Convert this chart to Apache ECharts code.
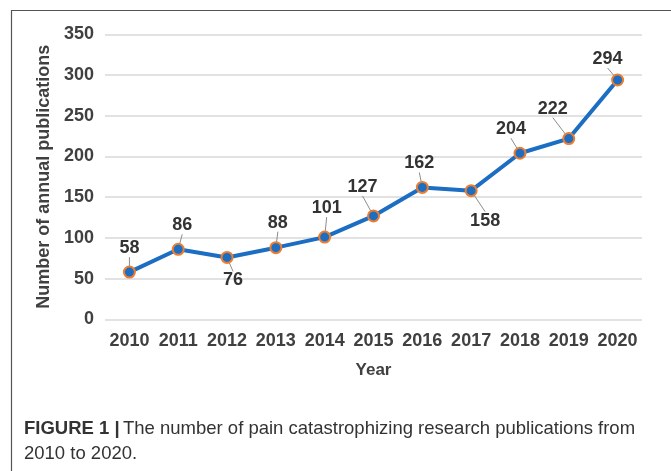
<!DOCTYPE html>
<html>
<head>
<meta charset="utf-8">
<script src="https://cdn.jsdelivr.net/npm/echarts@6/dist/echarts.min.js"></script>
<style>
html,body{margin:0;padding:0;background:#fff;}
#chart{width:671px;height:471px;}
</style>
</head>
<body>
<div id="chart"></div>
<script>
var years = ['2010','2011','2012','2013','2014','2015','2016','2017','2018','2019','2020'];
var publications = [58, 86, 76, 88, 101, 127, 162, 158, 204, 222, 294];
var yTicks = [0, 50, 100, 150, 200, 250, 300, 350];
// label offsets (label centre relative to point), layout only
var labelDx = [0, 4, 6, 2, 2, -11, -3, 14, -9, -16, -10];
var labelDy = [-24, -24, 23, -25, -29, -29, -24, 30, -24, -30, -21];

var chart = echarts.init(document.getElementById('chart'));
var font = 'Liberation Sans, Arial, sans-serif';
chart.setOption({
  backgroundColor: '#fff',
  animation: false,
  grid: {left: 105, right: 29, top: 34.4, bottom: 151.7},
  xAxis: {
    type: 'category',
    data: years,
    boundaryGap: true,
    axisLine: {show: false},
    axisTick: {show: false},
    axisLabel: {color: '#404040', fontWeight: 'bold', fontSize: 18, fontFamily: font, margin: 13, interval: 0},
    name: 'Year',
    nameLocation: 'middle',
    nameGap: 43,
    nameTextStyle: {color: '#404040', fontWeight: 'bold', fontSize: 17, fontFamily: font}
  },
  yAxis: {
    type: 'value',
    min: yTicks[0],
    max: yTicks[yTicks.length - 1],
    interval: 50,
    axisLine: {show: false},
    axisTick: {show: false},
    splitLine: {lineStyle: {color: '#d9d9d9', width: 1.5}},
    axisLabel: {color: '#404040', fontWeight: 'bold', fontSize: 18, fontFamily: font, margin: 11},
    name: 'Number of annual publications',
    nameLocation: 'middle',
    nameGap: 52,
    nameTextStyle: {color: '#404040', fontWeight: 'bold', fontSize: 18, fontFamily: font}
  },
  series: [{
    type: 'line',
    data: publications,
    symbol: 'circle',
    symbolSize: 11,
    lineStyle: {color: '#1b6ec2', width: 4},
    itemStyle: {color: '#1b6ec2', borderColor: '#ed7d31', borderWidth: 2},
    label: {
      show: true,
      color: '#333',
      fontWeight: 'bold',
      fontSize: 18,
      fontFamily: font,
      position: 'inside'
    },
    labelLine: {show: true, lineStyle: {color: '#8c8c8c', width: 1}},
    labelLayout: function (p) {
      var cx = p.rect.x + p.rect.width / 2;
      var cy = p.rect.y + p.rect.height / 2;
      var i = p.dataIndex;
      return {
        x: cx + labelDx[i] - p.labelRect.width / 2,
        y: cy + labelDy[i] - p.labelRect.height / 2,
        align: 'left',
        verticalAlign: 'top'
      };
    }
  }],
  graphic: [
    {type: 'rect', shape: {x: 11.5, y: 10.5, width: 700, height: 500}, style: {fill: 'none', stroke: '#555', lineWidth: 1.2}, silent: true},
    {
      type: 'text', left: 24, top: 419,
      style: {
        text: '{a|FIGURE 1 |} {b|The number of pain catastrophizing research publications from}\n{b|2010 to 2020.}',
        rich: {
          a: {fontFamily: font, fontWeight: 'bold', fontSize: 18.5, fill: '#333', lineHeight: 25},
          b: {fontFamily: font, fontSize: 18.5, fill: '#333', lineHeight: 25}
        }
      }
    }
  ]
});
</script>
</body>
</html>
